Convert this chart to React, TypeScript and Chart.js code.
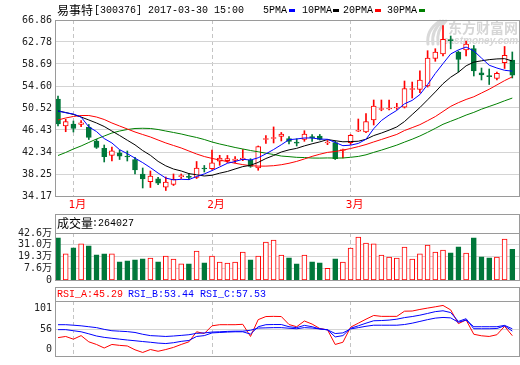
import React, { useEffect, useRef } from 'react';
import { Chart, registerables } from 'chart.js';

Chart.register(...registerables);

// ---------------- data ----------------
const stockName = '易事特';
const stockCode = '300376';
const stamp = '2017-03-30 15:00';

const dates = [
  '2016-12-29', '2016-12-30',
  '2017-01-03', '2017-01-04', '2017-01-05', '2017-01-06', '2017-01-09', '2017-01-10', '2017-01-11', '2017-01-12', '2017-01-13',
  '2017-01-16', '2017-01-17', '2017-01-18', '2017-01-19', '2017-01-20', '2017-01-23', '2017-01-24', '2017-01-25', '2017-01-26',
  '2017-02-03', '2017-02-06', '2017-02-07', '2017-02-08', '2017-02-09', '2017-02-10', '2017-02-13', '2017-02-14', '2017-02-15',
  '2017-02-16', '2017-02-17', '2017-02-20', '2017-02-21', '2017-02-22', '2017-02-23', '2017-02-24', '2017-02-27', '2017-02-28',
  '2017-03-01', '2017-03-02', '2017-03-03', '2017-03-06', '2017-03-07', '2017-03-08', '2017-03-09', '2017-03-10', '2017-03-13',
  '2017-03-14', '2017-03-15', '2017-03-16', '2017-03-17', '2017-03-20', '2017-03-21', '2017-03-22', '2017-03-23', '2017-03-24',
  '2017-03-27', '2017-03-28', '2017-03-29', '2017-03-30',
];

const opens = [52.19, 47.17, 47.54, 47.45, 46.99, 44.39, 43.03, 41.73, 42.21, 41.60, 40.95, 38.26, 36.81, 37.38, 35.79, 36.31, 37.76, 37.76, 37.64, 39.37, 39.24, 40.62, 40.73, 40.77, 40.95, 40.86, 39.37, 44.66, 44.85, 45.22, 44.85, 44.10, 44.66, 45.13, 45.31, 44.02, 44.07, 42.62, 44.07, 46.19, 46.06, 48.29, 50.24, 50.33, 50.52, 50.65, 53.95, 53.95, 54.60, 59.71, 60.55, 63.15, 60.92, 61.29, 61.57, 57.07, 56.46, 56.00, 58.93, 59.43];
const highs = [52.75, 48.42, 48.10, 48.16, 47.45, 44.70, 43.64, 43.27, 42.71, 42.53, 41.34, 39.37, 38.82, 37.63, 37.70, 38.26, 38.26, 38.35, 40.58, 39.84, 42.71, 41.73, 41.70, 41.47, 42.81, 41.10, 43.46, 45.41, 47.00, 45.97, 45.22, 44.81, 46.30, 45.60, 45.60, 44.48, 44.39, 42.90, 45.60, 48.47, 49.50, 52.00, 52.00, 52.00, 51.39, 55.53, 55.34, 57.44, 61.16, 61.53, 65.84, 63.89, 61.10, 62.96, 62.12, 57.94, 57.76, 57.20, 61.94, 60.92];
const lows = [47.17, 46.11, 46.06, 47.04, 44.66, 43.00, 40.49, 40.67, 40.95, 40.67, 38.26, 35.66, 35.75, 36.27, 35.19, 36.12, 37.42, 37.24, 37.42, 38.63, 39.09, 39.87, 40.39, 40.35, 40.73, 39.50, 38.95, 43.92, 44.02, 44.39, 43.83, 43.46, 44.33, 44.33, 44.57, 43.70, 40.95, 41.23, 43.70, 46.15, 45.93, 47.36, 50.00, 50.15, 50.24, 50.52, 52.37, 53.36, 54.40, 59.19, 60.17, 61.50, 57.20, 60.17, 56.46, 55.72, 54.88, 55.72, 57.85, 56.09];
const closes = [47.54, 47.97, 46.70, 47.78, 45.07, 43.18, 41.47, 42.58, 41.55, 41.41, 39.00, 37.33, 37.89, 36.53, 36.77, 37.27, 37.89, 37.64, 39.37, 39.19, 40.35, 41.23, 41.10, 41.05, 41.23, 39.65, 43.33, 44.76, 45.04, 45.69, 44.33, 44.00, 45.69, 45.00, 44.70, 44.10, 41.10, 42.71, 45.44, 46.30, 48.01, 50.89, 50.33, 50.46, 50.65, 54.10, 54.10, 55.72, 59.80, 60.92, 63.28, 63.02, 59.52, 62.40, 57.39, 56.64, 56.33, 56.96, 60.30, 56.59];

const ma5 = [49.96, 49.64, 49.40, 48.84, 47.01, 46.14, 44.84, 44.02, 42.77, 42.04, 41.20, 40.37, 39.44, 38.43, 37.50, 37.16, 37.27, 37.22, 37.79, 38.27, 38.89, 39.56, 40.25, 40.58, 40.99, 40.85, 41.27, 42.00, 42.80, 43.69, 44.63, 44.76, 44.95, 44.94, 44.74, 44.70, 44.12, 43.52, 43.61, 43.93, 44.71, 46.67, 48.19, 49.20, 50.07, 51.29, 51.93, 53.01, 54.87, 56.93, 58.76, 60.55, 61.31, 61.83, 61.12, 59.79, 58.46, 57.94, 57.52, 57.36];
const ma10 = [49.96, 49.68, 49.31, 48.84, 48.29, 47.73, 47.08, 46.24, 45.41, 44.53, 43.67, 42.61, 41.73, 40.60, 39.77, 39.18, 38.82, 38.33, 38.11, 37.89, 38.02, 38.41, 38.73, 39.19, 39.63, 39.87, 40.41, 41.13, 41.69, 42.34, 42.74, 43.02, 43.48, 43.87, 44.22, 44.66, 44.44, 44.24, 44.28, 44.34, 44.71, 45.39, 45.86, 46.40, 47.00, 48.00, 49.30, 50.60, 52.04, 53.50, 55.03, 56.24, 57.16, 58.35, 59.03, 59.28, 59.50, 59.63, 59.68, 59.24];
const ma20 = [48.29, 48.66, 48.94, 49.12, 49.12, 48.84, 48.38, 47.73, 47.17, 46.62, 46.06, 45.59, 45.13, 44.57, 44.02, 43.55, 43.09, 42.53, 41.97, 41.50, 41.15, 40.85, 40.55, 40.25, 40.00, 39.80, 39.72, 39.72, 39.80, 39.98, 40.25, 40.60, 41.05, 41.53, 41.93, 42.27, 42.43, 42.69, 42.99, 43.34, 43.73, 44.21, 44.67, 45.14, 45.61, 46.33, 46.87, 47.42, 48.16, 48.92, 49.87, 50.82, 51.51, 52.10, 52.60, 53.30, 54.00, 54.80, 55.60, 56.30];
const ma30 = [41.69, 42.25, 42.90, 43.46, 44.11, 44.76, 45.31, 45.87, 46.24, 46.52, 46.71, 46.75, 46.71, 46.52, 46.24, 45.97, 45.69, 45.35, 45.04, 44.66, 44.20, 43.83, 43.51, 43.18, 42.90, 42.62, 42.38, 42.12, 41.88, 41.59, 41.48, 41.35, 41.31, 41.22, 41.21, 41.24, 41.22, 41.23, 41.36, 41.52, 41.82, 42.27, 42.69, 43.15, 43.62, 44.18, 44.72, 45.32, 46.00, 46.73, 47.49, 48.05, 48.60, 49.20, 49.70, 50.30, 50.80, 51.30, 51.85, 52.36];

// volume in 万 (10k shares)
const volumes = [37.9, 21.9, 27.9, 31.9, 29.9, 20.9, 21.9, 21.9, 13.9, 14.9, 15.9, 16.9, 17.6, 13.9, 19.6, 16.6, 11.9, 11.9, 24.6, 12.9, 19.6, 13.6, 12.6, 13.6, 23.6, 15.9, 19.6, 33.6, 35.6, 20.6, 17.9, 11.9, 20.6, 13.9, 12.9, 7.6, 16.9, 13.6, 27.6, 38.6, 32.6, 31.9, 20.6, 18.6, 17.6, 28.6, 16.6, 21.9, 30.6, 23.6, 25.6, 22.9, 28.9, 22.6, 37.9, 18.9, 17.9, 18.6, 36.6, 26.4027];

const rsiA = [41.8, 43.9, 39.1, 45.4, 34.4, 29.7, 23.4, 29.7, 28.1, 27.0, 20.2, 15.5, 20.7, 17.6, 20.7, 24.5, 29.7, 34.4, 52.2, 49.1, 62.8, 64.8, 64.8, 64.8, 65.5, 43.9, 73.8, 79.3, 79.6, 79.3, 65.1, 61.2, 71.4, 65.9, 58.0, 55.7, 29.7, 33.6, 60.4, 67.5, 74.6, 81.2, 79.6, 79.6, 79.6, 88.8, 89.1, 91.9, 94.3, 96.6, 99.0, 91.1, 66.7, 73.3, 47.8, 45.1, 43.9, 47.0, 62.0, 45.29];
const rsiB = [56.0, 56.0, 54.1, 52.2, 48.6, 44.7, 42.3, 40.7, 39.1, 37.6, 36.3, 34.9, 33.6, 32.1, 31.3, 32.8, 35.2, 36.8, 43.9, 45.4, 50.2, 51.0, 51.7, 52.2, 52.2, 48.1, 61.2, 64.8, 65.1, 65.1, 61.2, 59.6, 63.6, 61.2, 57.3, 55.7, 43.1, 45.4, 58.5, 62.8, 67.5, 71.8, 72.2, 73.0, 74.6, 77.4, 79.3, 81.7, 84.8, 88.0, 89.5, 86.4, 70.6, 75.4, 57.6, 57.6, 57.6, 58.0, 62.8, 53.44];
const rsiC = [64.8, 64.8, 63.9, 62.8, 61.2, 59.6, 56.5, 54.1, 53.3, 52.5, 51.0, 47.8, 45.4, 44.7, 43.9, 44.7, 45.8, 47.0, 49.4, 50.2, 51.7, 52.2, 52.9, 53.3, 53.3, 54.9, 58.8, 59.2, 59.6, 59.6, 58.5, 57.6, 59.6, 58.8, 57.3, 55.7, 49.1, 50.2, 57.3, 59.6, 62.0, 63.9, 63.9, 63.9, 63.9, 65.1, 67.5, 70.6, 73.8, 76.5, 77.7, 76.9, 69.1, 73.0, 61.2, 61.2, 61.2, 61.2, 63.6, 57.53];

const priceTicks = [34.17, 38.25, 42.34, 46.43, 50.52, 54.60, 58.69, 62.78, 66.86];
const volTicks = [-4.1, 7.6, 19.3, 31.0, 42.6];
const volTickLabels = ['0', '7.6万', '19.3万', '31.0万', '42.6万'];
const rsiTicks = [20.7, 56, 93.8];
const rsiTickLabels = ['0', '56', '101'];
const rsiGridValue = 56;

// ---------------- styling ----------------
const RED = '#ff0000';
const GREEN = '#00773a';
const BLUE = '#0000ff';
const BLACK = '#000000';
const MAGREEN = '#008000';
const FRAME = '#9a9a9a';
const GRID = '#d4d4d4';
const DASH = '#c4c4c4';
const LABEL = '#222222';
const FONT = "'DejaVu Sans Mono', 'Noto Sans CJK SC', monospace";
const MONO = "'Liberation Mono', 'DejaVu Sans Mono', monospace";
const CJK = "'Noto Sans CJK SC', sans-serif";

const X_MIN = -0.39;
const X_MAX = 59.87;

const up = closes.map((c, i) => c >= opens[i]);
const monthStarts = dates
  .map((d, i) => (i > 0 && d.slice(5, 7) !== dates[i - 1].slice(5, 7) ? i : -1))
  .filter((i) => i >= 0);
const monthLabel = (i: number) => `${parseInt(dates[i].slice(5, 7), 10)}月`;

const pts = (arr: number[]) => arr.map((v, i) => ({ x: i, y: v }));

const makeX = (labels: boolean): any => ({
  type: 'linear',
  min: X_MIN,
  max: X_MAX,
  bounds: 'data',
  offset: false,
  afterBuildTicks: (s: any) => {
    s.ticks = monthStarts.map((v) => ({ value: v }));
  },
  afterFit: (s: any) => {
    s.height = labels ? 16 : 0;
  },
  grid: { color: DASH, lineWidth: 1, drawTicks: false, offset: false },
  border: { display: false, dash: [4, 3] },
  ticks: {
    display: labels,
    autoSkip: false,
    maxRotation: 0,
    padding: 3,
    labelOffset: 4,
    color: RED,
    font: { family: FONT, size: 11 },
    callback: (v: number) => monthLabel(Math.round(v)),
  },
});

const makeY = (min: number, max: number, ticks: number[], labels: string[], gridColor: any): any => ({
  type: 'linear',
  min,
  max,
  bounds: 'data',
  afterBuildTicks: (s: any) => {
    s.ticks = ticks.map((v) => ({ value: v }));
  },
  afterFit: (s: any) => {
    s.width = 55;
  },
  grid: { color: gridColor, lineWidth: 1, drawTicks: false },
  border: { display: false },
  ticks: {
    autoSkip: false,
    padding: 3,
    color: LABEL,
    font: { family: FONT, size: 10 },
    callback: (_v: number, i: number) => labels[i],
  },
});

function text(ctx: CanvasRenderingContext2D, s: string, x: number, y: number, font: string, color: string) {
  ctx.font = font;
  ctx.fillStyle = color;
  ctx.textBaseline = 'middle';
  ctx.textAlign = 'left';
  ctx.fillText(s, x, y);
}

function frame(ctx: CanvasRenderingContext2D, a: any, top: number, divider: number | null) {
  ctx.save();
  ctx.strokeStyle = FRAME;
  ctx.lineWidth = 1;
  ctx.setLineDash([]);
  ctx.strokeRect(a.left + 0.5, top + 0.5, a.right - a.left, a.bottom - top);
  if (divider !== null) {
    ctx.beginPath();
    ctx.moveTo(a.left, divider + 0.5);
    ctx.lineTo(a.right + 1, divider + 0.5);
    ctx.stroke();
  }
  ctx.restore();
}

const basePlugins = { legend: { display: false }, tooltip: { enabled: false } };

function priceConfig(): any {
  const legendItems = [
    { label: '5PMA', color: BLUE, tx: 263, mx: 289 },
    { label: '10PMA', color: BLACK, tx: 302, mx: 333 },
    { label: '20PMA', color: RED, tx: 343, mx: 375 },
    { label: '30PMA', color: MAGREEN, tx: 387, mx: 419 },
  ];
  return {
    type: 'bar',
    data: {
      datasets: [
        { type: 'line', data: pts(ma5), borderColor: BLUE, borderWidth: 1, pointRadius: 0, tension: 0, order: 0 },
        { type: 'line', data: pts(ma10), borderColor: BLACK, borderWidth: 1, pointRadius: 0, tension: 0, order: 0 },
        { type: 'line', data: pts(ma20), borderColor: RED, borderWidth: 1, pointRadius: 0, tension: 0, order: 0 },
        { type: 'line', data: pts(ma30), borderColor: MAGREEN, borderWidth: 1, pointRadius: 0, tension: 0, order: 0 },
        {
          type: 'bar',
          data: opens.map((o, i) => ({ x: i, y: [o, closes[i]] })),
          backgroundColor: up.map((u) => (u ? '#ffffff' : GREEN)),
          borderColor: up.map((u) => (u ? RED : GREEN)),
          borderWidth: 1,
          borderSkipped: false,
          barThickness: 5,
          minBarLength: 1,
          grouped: false,
          order: 1,
        },
        {
          type: 'bar',
          data: lows.map((l, i) => ({ x: i, y: [l, highs[i]] })),
          backgroundColor: up.map((u) => (u ? RED : GREEN)),
          borderWidth: 0,
          barThickness: 1,
          grouped: false,
          order: 2,
        },
      ],
    },
    options: {
      responsive: false,
      animation: false,
      events: [],
      layout: { padding: { top: 20, bottom: 153, left: 0, right: 1 } },
      scales: {
        x: makeX(true),
        y: makeY(priceTicks[0], priceTicks[priceTicks.length - 1], priceTicks, priceTicks.map((v) => v.toFixed(2)), GRID),
      },
      plugins: basePlugins,
    },
    plugins: [
      {
        id: 'priceDeco',
        beforeDatasetsDraw(chart: any) {
          const ctx = chart.ctx as CanvasRenderingContext2D;
          ctx.save();
          ctx.strokeStyle = '#d9d9d9';
          ctx.lineWidth = 3;
          ctx.lineCap = 'round';
          for (let k = 0; k < 3; k++) {
            ctx.beginPath();
            ctx.moveTo(428 + k * 5, 44);
            ctx.quadraticCurveTo(426 + k * 5, 30, 440 + k * 3, 21);
            ctx.stroke();
          }
          text(ctx, '东方财富网', 448, 28, `bold 14px ${CJK}`, '#d6d6d6');
          text(ctx, 'eastmoney.com', 443, 41, "bold italic 10px 'Liberation Sans', sans-serif", '#d6d6d6');
          ctx.restore();
        },
        afterDraw(chart: any) {
          const ctx = chart.ctx as CanvasRenderingContext2D;
          frame(ctx, chart.chartArea, chart.chartArea.top, null);
          ctx.save();
          text(ctx, stockName, 57, 10, `12px ${CJK}`, '#000');
          text(ctx, `[${stockCode}] ${stamp}`, 94, 10, `10px ${MONO}`, '#000');
          legendItems.forEach((it) => {
            text(ctx, it.label, it.tx, 10, `10px ${MONO}`, '#000');
            ctx.fillStyle = it.color;
            ctx.fillRect(it.mx, 9, 6, 3);
          });
          ctx.restore();
        },
      },
    ],
  };
}

function volumeConfig(): any {
  const vmin = volTicks[0];
  return {
    type: 'bar',
    data: {
      datasets: [
        {
          type: 'bar',
          data: volumes.map((v, i) => ({ x: i, y: [vmin, v] })),
          backgroundColor: up.map((u) => (u ? '#ffffff' : GREEN)),
          borderColor: up.map((u) => (u ? RED : GREEN)),
          borderWidth: 1,
          borderSkipped: false,
          barThickness: 5,
          grouped: false,
        },
      ],
    },
    options: {
      responsive: false,
      animation: false,
      events: [],
      layout: { padding: { top: 233, bottom: 85, left: 0, right: 1 } },
      scales: {
        x: makeX(false),
        y: makeY(vmin, volTicks[volTicks.length - 1], volTicks, volTickLabels, GRID),
      },
      plugins: basePlugins,
    },
    plugins: [
      {
        id: 'volDeco',
        afterDraw(chart: any) {
          const ctx = chart.ctx as CanvasRenderingContext2D;
          frame(ctx, chart.chartArea, 214, chart.chartArea.top);
          ctx.save();
          text(ctx, '成交量', 57, 223, `12px ${CJK}`, '#000');
          text(ctx, `:${Math.round(volumes[volumes.length - 1] * 10000)}`, 92, 223, `10px ${MONO}`, '#000');
          ctx.restore();
        },
      },
    ],
  };
}

function rsiConfig(): any {
  const last = rsiA.length - 1;
  return {
    type: 'line',
    data: {
      datasets: [
        { data: pts(rsiC), borderColor: BLUE, borderWidth: 1, pointRadius: 0, tension: 0 },
        { data: pts(rsiB), borderColor: BLUE, borderWidth: 1, pointRadius: 0, tension: 0 },
        { data: pts(rsiA), borderColor: RED, borderWidth: 1, pointRadius: 0, tension: 0 },
      ],
    },
    options: {
      responsive: false,
      animation: false,
      events: [],
      layout: { padding: { top: 301, bottom: 2, left: 0, right: 1 } },
      scales: {
        x: makeX(false),
        y: makeY(9.2, 106.9, rsiTicks, rsiTickLabels, (c: any) =>
          c.tick && Math.abs(c.tick.value - rsiGridValue) < 0.01 ? GRID : 'rgba(0,0,0,0)'
        ),
      },
      plugins: basePlugins,
    },
    plugins: [
      {
        id: 'rsiDeco',
        afterDraw(chart: any) {
          const ctx = chart.ctx as CanvasRenderingContext2D;
          frame(ctx, chart.chartArea, 287, chart.chartArea.top);
          ctx.save();
          text(ctx, `RSI_A:${rsiA[last].toFixed(2)}`, 57, 294, `10px ${MONO}`, RED);
          text(ctx, `RSI_B:${rsiB[last].toFixed(2)}`, 128, 294, `10px ${MONO}`, BLUE);
          text(ctx, `RSI_C:${rsiC[last].toFixed(2)}`, 200, 294, `10px ${MONO}`, BLUE);
          ctx.restore();
        },
      },
    ],
  };
}

export default function App() {
  const r1 = useRef<HTMLCanvasElement>(null);
  const r2 = useRef<HTMLCanvasElement>(null);
  const r3 = useRef<HTMLCanvasElement>(null);

  useEffect(() => {
    const charts = [
      new Chart(r1.current as HTMLCanvasElement, priceConfig()),
      new Chart(r2.current as HTMLCanvasElement, volumeConfig()),
      new Chart(r3.current as HTMLCanvasElement, rsiConfig()),
    ];
    return () => charts.forEach((c) => c.destroy());
  }, []);

  const cs: React.CSSProperties = { position: 'absolute', left: 0, top: 0, width: 520, height: 365 };
  return (
    <div style={{ position: 'fixed', left: 0, top: 0, width: 520, height: 365, background: '#ffffff' }}>
      <canvas ref={r1} width={520} height={365} style={cs} />
      <canvas ref={r2} width={520} height={365} style={cs} />
      <canvas ref={r3} width={520} height={365} style={cs} />
    </div>
  );
}
